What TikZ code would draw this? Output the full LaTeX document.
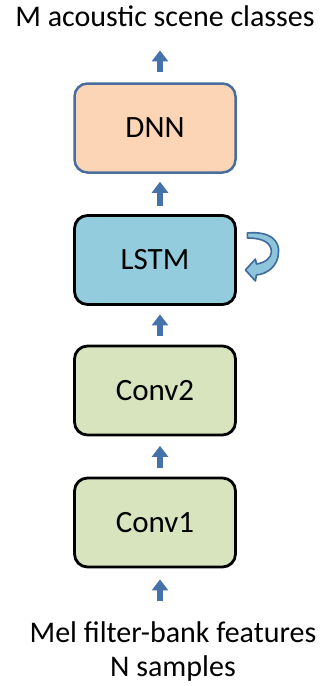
\documentclass[tikz,border=0pt]{standalone}
\usepackage{fontspec}
\setmainfont{Carlito}
\usetikzlibrary{arrows.meta}
\definecolor{arrowblue}{HTML}{4672AA}
\definecolor{dnnfill}{HTML}{FBD5B5}
\definecolor{dnnline}{HTML}{4A6E9C}
\definecolor{lstmfill}{HTML}{93CDDD}
\definecolor{convfill}{HTML}{D7E4BD}
\definecolor{loopfill}{HTML}{8EC5DA}
\definecolor{loopline}{HTML}{3F6A9C}
\begin{document}
\begin{tikzpicture}[x=1pt,y=-1pt,
  layer/.style={rectangle, rounded corners=13pt, minimum width=161pt,
    minimum height=89pt, inner sep=0pt, draw=black, line width=2.8pt,
    font=\fontsize{31}{33}\selectfont},
  caption/.style={inner sep=0pt, font=\fontsize{30}{34}\selectfont, align=center},
  blk/.style={draw=arrowblue, line width=6.5pt,
    -{Triangle[length=11pt,width=16pt]}}]
\useasboundingbox (0,0) rectangle (321,686);

% captions
\node[caption, anchor=base] (title) at (165,26) {M acoustic scene classes};
\node[caption, anchor=base] (mel) at (173,676) {Mel filter-bank features\\N samples};

% network layers
\node[layer, fill=dnnfill, draw=dnnline, line width=2.5pt] (dnn) at (155,128) {DNN};
\node[layer, fill=lstmfill] (lstm) at (155,260) {LSTM};
\node[layer, fill=convfill] (conv2) at (155,390.5) {Conv2};
\node[layer, fill=convfill] (conv1) at (155,522.5) {Conv1};

% data flow
\draw[blk, shorten <=10pt, shorten >=24pt] ([xshift=5pt]dnn.north) -- ([xshift=5pt]dnn.north |- title.south);
\draw[blk, shorten <=8.5pt, shorten >=8pt] ([xshift=5pt]lstm.north) -- ([xshift=5pt]dnn.south);
\draw[blk, shorten <=8.5pt, shorten >=8.5pt] ([xshift=5pt]conv2.north) -- ([xshift=5pt]lstm.south);
\draw[blk, shorten <=9pt, shorten >=9.5pt] ([xshift=5pt]conv1.north) -- ([xshift=5pt]conv2.south);
\draw[blk, shorten <=20pt, shorten >=11pt] ([xshift=5pt]conv1.south |- mel.north) -- ([xshift=5pt]conv1.south);

% recurrent loop on the LSTM
\begin{scope}[shift={(lstm.east)}]
\draw[fill=loopfill, draw=loopline, line width=1.6pt, line join=round]
  (10.5,-27) .. controls (32.5,-29) and (43.5,-20) .. (41.5,-6)
  .. controls (40.5,6) and (30.5,14) .. (19.5,15)
  -- (18.5,21) -- (8.5,10) -- (18.5,-1) -- (19.5,4)
  .. controls (27.5,3) and (34.5,-2) .. (34.5,-8)
  .. controls (34.5,-17) and (26.5,-22) .. (10.5,-22) -- cycle;
\end{scope}
\end{tikzpicture}
\end{document}
